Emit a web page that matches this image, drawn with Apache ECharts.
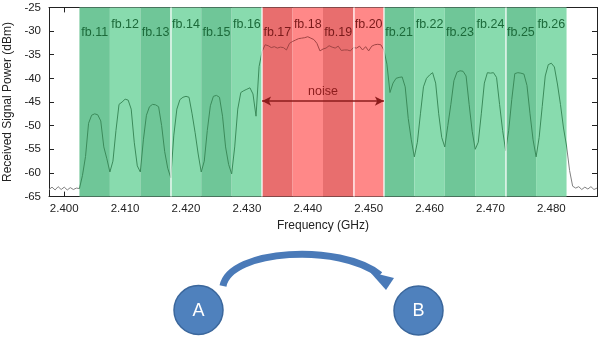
<!DOCTYPE html>
<html><head><meta charset="utf-8">
<script src="https://cdn.jsdelivr.net/npm/echarts@6/dist/echarts.min.js"></script>
<style>html,body{margin:0;padding:0;background:#fff}#c{width:600px;height:339px}</style>
</head><body><div id="c"></div>
<script>
// Spectrum sampled every 0.5 MHz from 2.3975 GHz
const freqStart = 2.3975;
const freqStep = 0.0005;
const power = [
  -63.5,-63.0,-63.6,-62.9,-63.5,-63.0,-63.6,-63.1,-63.5,-63.2,
  -63.3,-60.5,-56.5,-49.5,-47.8,-47.5,-47.7,-49.0,-54.5,-57.0,
  -59.8,-57.5,-51.0,-45.5,-45.0,-44.4,-44.6,-46.5,-53.5,-58.5,
  -59.8,-53.0,-47.8,-46.0,-45.5,-45.6,-46.0,-50.0,-55.5,-59.0,
  -61.0,-52.0,-46.5,-44.5,-44.0,-43.8,-44.0,-47.5,-51.5,-56.0,
  -59.8,-57.5,-51.0,-45.8,-43.8,-43.6,-44.0,-48.0,-54.5,-58.2,
  -60.2,-54.5,-46.5,-43.0,-42.6,-42.3,-42.0,-43.3,-48.0,-37.5,
  -34.3,-32.9,-33.1,-33.5,-33.3,-33.6,-33.4,-33.5,-34.0,-32.6,
  -32.2,-31.9,-31.6,-31.5,-31.4,-31.2,-31.5,-31.8,-32.6,-34.2,
  -33.8,-33.6,-33.1,-33.4,-33.6,-33.2,-34.1,-34.0,-34.0,-34.2,
  -33.5,-33.6,-33.2,-34.0,-33.3,-34.2,-33.2,-32.9,-32.8,-32.9,
  -34.0,-37.0,-43.0,-41.0,-40.0,-39.8,-39.7,-41.8,-48.5,-53.0,
  -56.6,-53.5,-47.5,-41.8,-40.0,-39.3,-38.8,-41.0,-47.5,-52.5,
  -54.5,-50.0,-45.5,-40.5,-38.7,-38.4,-38.5,-39.5,-45.5,-51.2,
  -55.0,-53.5,-47.5,-41.0,-38.8,-38.9,-38.8,-39.8,-45.5,-51.0,
  -55.3,-51.0,-44.5,-39.0,-38.8,-38.9,-39.1,-41.5,-47.5,-53.0,
  -56.6,-52.5,-46.0,-39.5,-37.1,-36.8,-37.6,-41.2,-45.5,-50.5,
  -54.3,-59.5,-62.8,-63.2,-62.9,-63.5,-63.0,-63.4,-62.9,-63.5,
  -63.2
];
const bandNames = ['fb.11','fb.12','fb.13','fb.14','fb.15','fb.16','fb.17','fb.18','fb.19','fb.20','fb.21','fb.22','fb.23','fb.24','fb.25','fb.26'];
const bandCenters = [2.405,2.410,2.415,2.420,2.425,2.430,2.435,2.440,2.445,2.450,2.455,2.460,2.465,2.470,2.475,2.480];
const bandGroup = ['g','g','g','g','g','g','r','r','r','r','g','g','g','g','g','g'];
const bandHalfWidth = 0.0025;
const separators = [2.4175, 2.4325, 2.4475, 2.4525, 2.4725];
const xTicks = [2.400,2.410,2.420,2.430,2.440,2.450,2.460,2.470,2.480];
const noiseRange = [2.4325, 2.4525];
const noiseLevel = -44.8;
const noiseLabel = 'noise';

const FONT = 'Liberation Sans, Arial, sans-serif';
const colors = {
  g: ['#6fc698', '#88dbae'],
  r: ['#e86e6e', '#ff8888'],
  gText: '#1c6a3a', rText: '#7a1a1a',
  gLine: '#3b8a5a', rLine: '#a04444', grayLine: '#808080'
};

const spectrum = power.map((p, i) => [freqStart + i * freqStep, p]);

const areas = bandNames.map((n, i) => {
  const grp = bandGroup[i];
  const shade = i % 2 === 0 ? 0 : 1;
  return [{
    name: n,
    xAxis: bandCenters[i] - bandHalfWidth,
    itemStyle: { color: colors[grp][shade], opacity: 1 },
    label: {
      show: true, position: 'insideTop', distance: shade === 0 ? 19 : 11,
      color: grp === 'g' ? colors.gText : colors.rText,
      fontSize: 12.5, fontFamily: FONT
    }
  }, { xAxis: bandCenters[i] + bandHalfWidth }];
});

// line colour pieces derived from band groups
const pieces = [];
let segStart = null, segGrp = null;
bandNames.forEach((n, i) => {
  const lo = bandCenters[i] - bandHalfWidth, hi = bandCenters[i] + bandHalfWidth;
  if (segGrp !== bandGroup[i]) {
    if (segGrp) pieces.push({ gte: segStart, lt: lo, color: segGrp === 'g' ? colors.gLine : colors.rLine });
    segStart = lo; segGrp = bandGroup[i];
  }
  if (i === bandNames.length - 1) pieces.push({ gte: segStart, lt: hi, color: segGrp === 'g' ? colors.gLine : colors.rLine });
});
pieces.unshift({ lt: bandCenters[0] - bandHalfWidth, color: colors.grayLine });
pieces.push({ gte: bandCenters[bandCenters.length - 1] + bandHalfWidth, color: colors.grayLine });

const axisColor = '#222';
const chart = echarts.init(document.getElementById('c'));
chart.setOption({
  animation: false,
  grid: { left: 49, right: 3, top: 7.4, bottom: 142.4, outerBoundsMode: 'none' },
  xAxis: [{
    type: 'value', min: 2.3975, max: 2.4875, position: 'bottom',
    axisLine: { lineStyle: { color: axisColor, width: 1 } },
    axisTick: { inside: true, length: 5, customValues: xTicks, lineStyle: { color: axisColor } },
    axisLabel: { customValues: xTicks, formatter: v => v.toFixed(3), color: axisColor, fontSize: 11.5, fontFamily: FONT, margin: 6 },
    splitLine: { show: false },
    name: 'Frequency (GHz)', nameLocation: 'middle', nameGap: 23,
    nameTextStyle: { fontSize: 12, color: axisColor, fontFamily: FONT }
  }, {
    type: 'value', min: 2.3975, max: 2.4875, position: 'top',
    axisLine: { show: true, onZero: false, lineStyle: { color: axisColor, width: 1 } },
    axisTick: { inside: true, length: 5, customValues: xTicks, lineStyle: { color: axisColor } },
    axisLabel: { show: false }, splitLine: { show: false }
  }],
  yAxis: [{
    type: 'value', min: -65, max: -25, interval: 5,
    axisLine: { show: true, onZero: false, lineStyle: { color: axisColor, width: 1 } },
    axisTick: { show: true, inside: true, length: 5, lineStyle: { color: axisColor } },
    axisLabel: { color: axisColor, fontSize: 11.5, fontFamily: FONT, margin: 8 },
    splitLine: { show: false },
    name: 'Received Signal Power (dBm)', nameLocation: 'middle', nameGap: 34, nameRotate: 90,
    nameTextStyle: { fontSize: 12, color: axisColor, fontFamily: FONT }
  }, {
    type: 'value', min: -65, max: -25, interval: 5, position: 'right',
    axisLine: { show: true, onZero: false, lineStyle: { color: axisColor, width: 1 } },
    axisTick: { show: true, inside: true, length: 5, lineStyle: { color: axisColor } },
    axisLabel: { show: false }, splitLine: { show: false }
  }],
  visualMap: {
    type: 'piecewise', show: false, dimension: 0, seriesIndex: 2, pieces: pieces
  },
  series: [{
    type: 'line', data: [], z: 1, silent: true,
    markArea: { silent: true, data: areas }
  }, {
    type: 'line', data: [], z: 2, silent: true,
    markLine: {
      silent: true, symbol: ['none', 'none'], precision: 5,
      lineStyle: { color: '#ffffff', width: 1.5, type: 'solid', opacity: 0.8 },
      label: { show: false },
      data: separators.map(v => ({ xAxis: v }))
    }
  }, {
    type: 'line', data: spectrum, z: 3, showSymbol: false, symbol: 'none',
    lineStyle: { width: 1 }
  }, {
    type: 'line', data: [], z: 4, silent: true,
    markLine: {
      silent: true, symbol: ['arrow', 'arrow'], symbolSize: [7, 9], precision: 5,
      lineStyle: { color: '#8c1c1c', width: 1.6, type: 'solid' },
      label: { show: true, position: 'middle', formatter: noiseLabel, color: '#8c1c1c', fontSize: 12.5, fontFamily: FONT, distance: 3 },
      data: [[{ coord: [noiseRange[0], noiseLevel] }, { coord: [noiseRange[1], noiseLevel] }]]
    }
  }],
  graphic: [
    { type: 'bezierCurve', shape: { x1: 223, y1: 286, cpx1: 230, cpy1: 249, cpx2: 340, cpy2: 243, x2: 380, y2: 275 },
      style: { stroke: '#4a7ab8', lineWidth: 7, fill: null } },
    { type: 'polygon', shape: { points: [[370, 272], [394, 278], [386, 290]] }, style: { fill: '#4a7ab8' } },
    { type: 'circle', shape: { cx: 198.5, cy: 310, r: 24.5 }, style: { fill: '#4f81bd', stroke: '#3b679c', lineWidth: 1.5 } },
    { type: 'text', x: 198.5, y: 311, style: { text: 'A', fill: '#ffffff', fontSize: 18, fontFamily: FONT, align: 'center', verticalAlign: 'middle' } },
    { type: 'circle', shape: { cx: 418.5, cy: 310.5, r: 24.5 }, style: { fill: '#4f81bd', stroke: '#3b679c', lineWidth: 1.5 } },
    { type: 'text', x: 418.5, y: 311.5, style: { text: 'B', fill: '#ffffff', fontSize: 18, fontFamily: FONT, align: 'center', verticalAlign: 'middle' } }
  ]
});
</script></body></html>
